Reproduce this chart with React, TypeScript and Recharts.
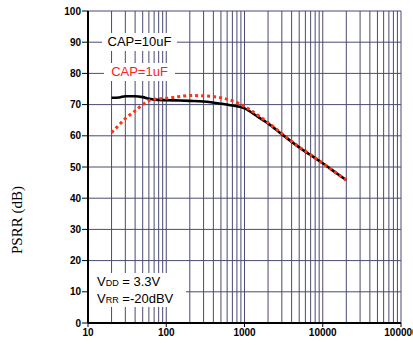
import React from "react";
import { LineChart, Line, XAxis, YAxis, CartesianGrid } from "recharts";

const freqs = [20, 25, 30, 40, 50, 60, 70, 100, 150, 200, 300, 500, 700, 1000, 1500, 2000, 3000, 5000, 7000, 10000, 15000, 20000];
const cap10uF = [72.2, 72.3, 72.7, 72.7, 72.4, 71.9, 71.6, 71.4, 71.3, 71.2, 71.0, 70.3, 69.7, 68.8, 66.0, 64.0, 60.5, 56.3, 53.8, 51.2, 48.0, 45.8];
const cap1uF = [61.0, 63.5, 65.5, 68.0, 70.0, 71.3, 71.7, 72.0, 72.6, 72.9, 72.8, 72.2, 71.2, 69.4, 66.5, 64.2, 60.7, 56.4, 53.9, 51.2, 48.0, 45.8];
const xTicks = [10, 100, 1000, 10000, 100000];
const yTicks = [0, 10, 20, 30, 40, 50, 60, 70, 80, 90, 100];
const gridX = [
  10, 20, 30, 40, 50, 60, 70, 80, 90,
  100, 200, 300, 400, 500, 600, 700, 800, 900,
  1000, 2000, 3000, 4000, 5000, 6000, 7000, 8000, 9000,
  10000, 20000, 30000, 40000, 50000, 60000, 70000, 80000, 90000, 100000,
];

const data = freqs.map((f, i) => ({ f, cap10: cap10uF[i], cap1: cap1uF[i] }));

const tickStyle = { fontFamily: "Arial, 'Liberation Sans', sans-serif", fontSize: 10, fontWeight: 700, fill: "#000" };
const gridColor = "#4a4a72";

export default function App() {
  return (
    <div style={{ position: "absolute", left: 0, top: 0, width: 413, height: 345, background: "#fff" }}>
      <LineChart width={413} height={345} data={data} margin={{ top: 11, right: 12, bottom: 0, left: 0 }}>
        <CartesianGrid
          stroke={gridColor}
          strokeWidth={1}
          verticalValues={gridX}
          horizontalValues={yTicks}
        />
        <XAxis
          dataKey="f"
          type="number"
          scale="log"
          domain={[10, 100000]}
          ticks={xTicks}
          allowDataOverflow
          height={22}
          tick={tickStyle}
          tickSize={4}
          tickMargin={2}
          tickLine={{ stroke: "#000" }}
          axisLine={{ stroke: "#000", strokeWidth: 2 }}
          interval={0}
        />
        <XAxis
          xAxisId="top"
          orientation="top"
          dataKey="f"
          type="number"
          scale="log"
          domain={[10, 100000]}
          height={0}
          tick={false}
          tickLine={false}
          axisLine={{ stroke: "#333", strokeWidth: 2 }}
        />
        <YAxis
          type="number"
          domain={[0, 100]}
          ticks={yTicks}
          width={88}
          tick={tickStyle}
          tickSize={6}
          tickMargin={1}
          tickLine={{ stroke: "#000" }}
          axisLine={{ stroke: "#000", strokeWidth: 2 }}
          interval={0}
          label={({ viewBox }: any) => (
            <text
              x={viewBox.x + 22}
              y={viewBox.y + 209}
              transform={`rotate(-90, ${viewBox.x + 22}, ${viewBox.y + 209})`}
              textAnchor="middle"
              style={{ fontFamily: "'Liberation Serif', 'Times New Roman', serif", fontSize: 15, fill: "#000" }}
            >
              PSRR (dB)
            </text>
          )}
        />
        <YAxis
          yAxisId="right"
          orientation="right"
          type="number"
          domain={[0, 100]}
          width={0}
          tick={false}
          tickLine={false}
          axisLine={{ stroke: "#333", strokeWidth: 2 }}
        />
        <Line
          dataKey="cap10"
          type="monotone"
          stroke="#000"
          strokeWidth={2.6}
          dot={false}
          isAnimationActive={false}
        />
        <Line
          dataKey="cap1"
          type="monotone"
          stroke="#ff3311"
          strokeWidth={3}
          strokeDasharray="3 3"
          dot={false}
          isAnimationActive={false}
        />
      </LineChart>
      <div style={{ position: "absolute", left: 102, top: 33, width: 75, height: 18, background: "#fff", fontFamily: "Arial, 'Liberation Sans', sans-serif", fontSize: 13, color: "#000", textAlign: "center", lineHeight: "18px" }}>
        CAP=10uF
      </div>
      <div style={{ position: "absolute", left: 104, top: 63, width: 71, height: 18, background: "#fff", fontFamily: "Arial, 'Liberation Sans', sans-serif", fontSize: 13, color: "#ff2020", textAlign: "center", lineHeight: "18px" }}>
        CAP=1uF
      </div>
      <div style={{ position: "absolute", left: 89, top: 273, width: 97, height: 34, background: "#fff", fontFamily: "Arial, 'Liberation Sans', sans-serif", fontSize: 13, color: "#000", lineHeight: "16px", paddingLeft: 8, boxSizing: "border-box", paddingTop: 1 }}>
        <div>V<span style={{ fontSize: 9 }}>DD</span> = 3.3V</div>
        <div>V<span style={{ fontSize: 9 }}>RR</span> =-20dBV</div>
      </div>
    </div>
  );
}
